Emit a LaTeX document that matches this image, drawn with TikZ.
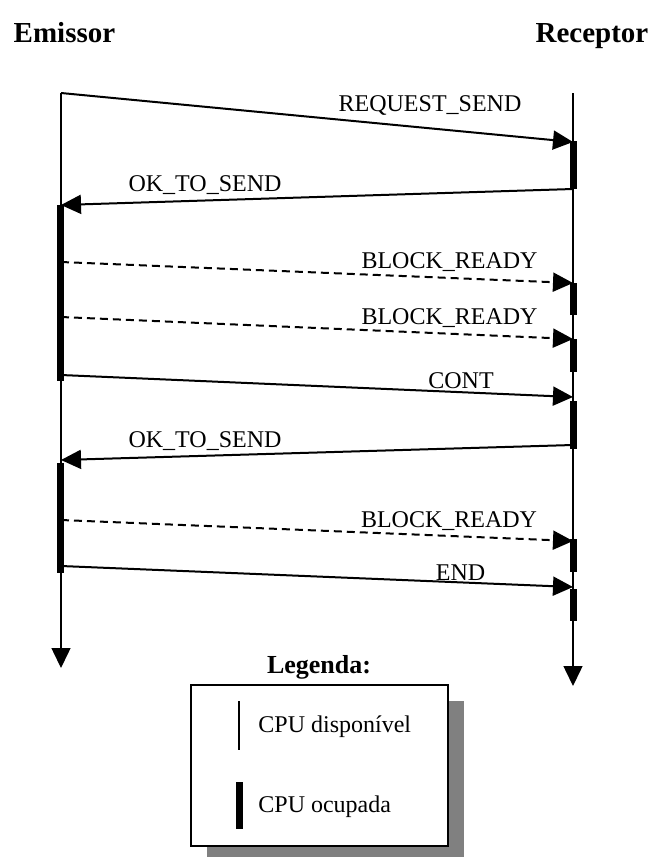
\documentclass[tikz,border=0pt]{standalone}
\usepackage{fontspec}
\setmainfont{Liberation Serif}
\usetikzlibrary{positioning,arrows.meta}

\begin{document}
\begin{tikzpicture}[x=0.5pt, y=-0.5pt,
  life/.style={line width=0.75pt, -{Triangle[length=10pt, width=9.5pt]}},
  msg/.style={line width=1pt, -{Triangle[length=10pt, width=9.5pt]}},
  dmsg/.style={msg, dash pattern=on 4pt off 2.5pt},
  busy/.style={line width=3.5pt},
  lbl/.style={font=\fontsize{12}{14}\selectfont, inner sep=0pt, anchor=base},
  head/.style={font=\fontsize{14.5}{17}\selectfont\bfseries, inner sep=0pt, anchor=base}
]
\useasboundingbox (0,0) rectangle (650,857);

%% --- Headers ---
\node[head] (emissor)  at (64.5,42) {Emissor};
\node[head] (receptor) at (592,42)  {Receptor};

%% --- Lifelines ---
\coordinate (eTop) at (61,93);
\coordinate (rTop) at (573,93);
\coordinate (eBot) at (61,668);
\coordinate (rBot) at (573,686);
\draw[life] (eTop) -- (eBot);
\draw[life] (rTop) -- (rBot);

%% --- Message end points ---
\coordinate (e1) at (61,93);   \coordinate (r1) at (573,142);
\coordinate (r2) at (573,189); \coordinate (e2) at (61,205);
\coordinate (e3) at (61,262);  \coordinate (r3) at (573,283);
\coordinate (e4) at (61,317);  \coordinate (r4) at (573,339);
\coordinate (e5) at (61,375);  \coordinate (r5) at (573,397);
\coordinate (r6) at (573,445); \coordinate (e6) at (61,460);
\coordinate (e7) at (61,520);  \coordinate (r7) at (573,541);
\coordinate (e8) at (61,566);  \coordinate (r8) at (573,587);

%% --- CPU busy ---
\draw[busy] (60.5,205) -- (60.5,381);
\draw[busy] (60.5,463) -- (60.5,573);
\draw[busy] (573,141) -- (573,189);
\draw[busy] (573,283) -- (573,315);
\draw[busy] (573,339) -- (573,372);
\draw[busy] (573,401) -- (573,449);
\draw[busy] (573,539) -- (573,572);
\draw[busy] (573,589) -- (573,621);

%% --- Messages ---
\draw[msg]  (e1) -- (r1);
\draw[msg]  (r2) -- (e2);
\draw[dmsg] (e3) -- (r3);
\draw[dmsg] (e4) -- (r4);
\draw[msg]  (e5) -- (r5);
\draw[msg]  (r6) -- (e6);
\draw[dmsg] (e7) -- (r7);
\draw[msg]  (e8) -- (r8);

\node[lbl] (l1) at (430,111)   {REQUEST\_SEND};
\node[lbl] (l2) at (205,191)   {OK\_TO\_SEND};
\node[lbl] (l3) at (449.5,268) {BLOCK\_READY};
\node[lbl] (l4) at (449.5,324) {BLOCK\_READY};
\node[lbl] (l5) at (461,388)   {CONT};
\node[lbl] (l6) at (205,447)   {OK\_TO\_SEND};
\node[lbl] (l7) at (449,527)   {BLOCK\_READY};
\node[lbl] (l8) at (460.5,580) {END};

%% --- Legend ---
\node[head, font=\fontsize{13}{15}\selectfont\bfseries] (legtitle) at (319,673) {Legenda:};
\fill[black!50] (207,701) rectangle (464,857);
\draw[line width=1pt, fill=white] (191,685) rectangle (448,846);
\draw[line width=0.75pt] (239,701) -- (239,750);
\draw[busy] (239,782) -- (239,829);
\node[lbl, anchor=base west] (free) at (258,732) {CPU disponível};
\node[lbl, anchor=base west] (used) at (258,812) {CPU ocupada};
\end{tikzpicture}
\end{document}
